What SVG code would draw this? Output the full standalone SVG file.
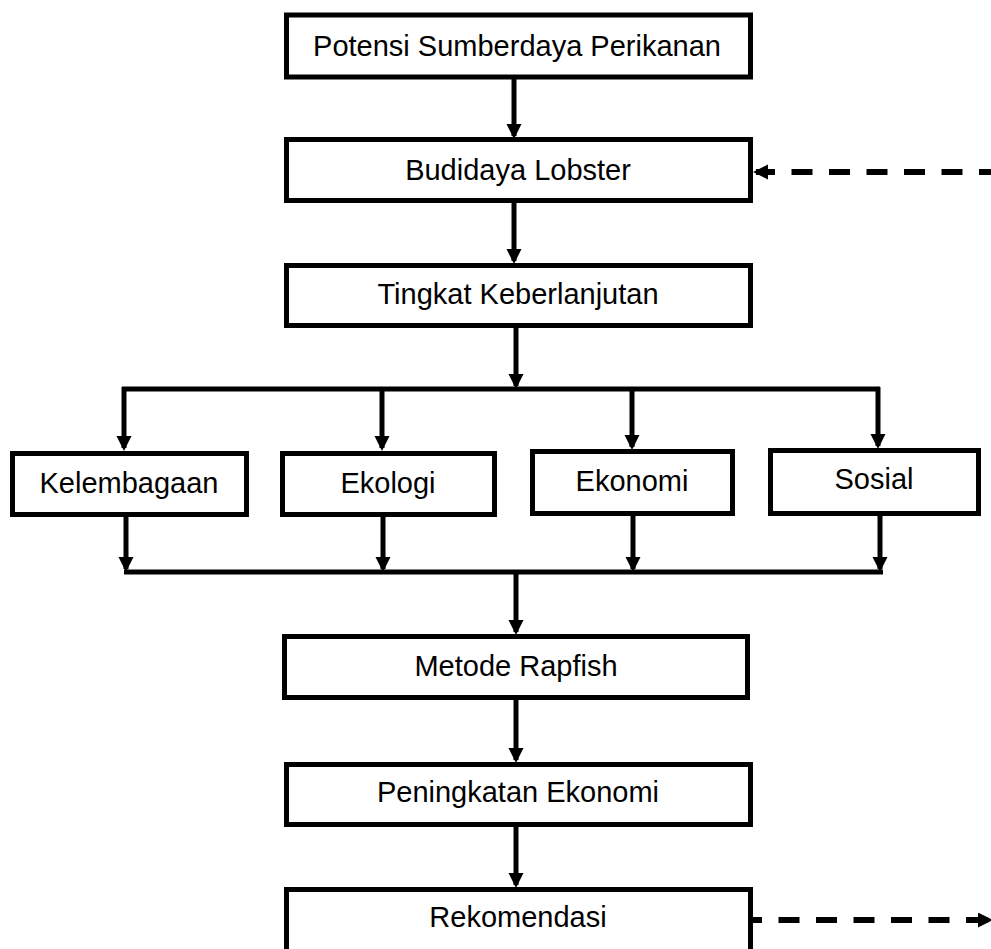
<svg xmlns="http://www.w3.org/2000/svg" width="991" height="949" viewBox="0 0 991 949">
<style>
.box rect{fill:#fff;stroke:#000;stroke-width:5;stroke-linejoin:miter}
.box text{font-family:"Liberation Sans",Arial,sans-serif;font-size:29px;fill:#000;text-anchor:middle}
.conn{fill:none;stroke:#000;stroke-width:5}
.dash{fill:none;stroke:#000;stroke-width:6;stroke-dasharray:21 16.5}
</style>
<defs>
<marker id="ah" markerUnits="userSpaceOnUse" markerWidth="16" markerHeight="16" refX="12" refY="7.5" orient="auto">
<path d="M0,0 L15,7.5 L0,15 Z" fill="#000"/>
</marker>
</defs>
<rect width="991" height="949" fill="#fff"/>
<g id="connectors">
<path class="conn" d="M514,79 V136" marker-end="url(#ah)"/>
<path class="conn" d="M514,203 V261" marker-end="url(#ah)"/>
<path class="conn" d="M516,328 V386" marker-end="url(#ah)"/>
<path class="conn" d="M122,389 H880"/>
<path class="conn" d="M124,387 V448" marker-end="url(#ah)"/>
<path class="conn" d="M382,387 V448" marker-end="url(#ah)"/>
<path class="conn" d="M632,387 V447" marker-end="url(#ah)"/>
<path class="conn" d="M878,387 V446" marker-end="url(#ah)"/>
<path class="conn" d="M126,514 V569" marker-end="url(#ah)"/>
<path class="conn" d="M383,516 V569" marker-end="url(#ah)"/>
<path class="conn" d="M633,515 V569" marker-end="url(#ah)"/>
<path class="conn" d="M880,515 V569" marker-end="url(#ah)"/>
<path class="conn" d="M124,572 H883"/>
<path class="conn" d="M516,570 V632" marker-end="url(#ah)"/>
<path class="conn" d="M516,700 V760" marker-end="url(#ah)"/>
<path class="conn" d="M516,827 V885" marker-end="url(#ah)"/>
<path class="dash" d="M991,172 H756" style="stroke-dashoffset:9" marker-end="url(#ah)"/>
<path class="dash" d="M753,920 H990" style="stroke-dashoffset:12" marker-end="url(#ah)"/>
</g>
<g id="n-potensi" class="box"><rect x="286.5" y="15" width="464" height="62"/><text x="517" y="56">Potensi Sumberdaya Perikanan</text></g>
<g id="n-budidaya" class="box"><rect x="286.5" y="139.5" width="464" height="61"/><text x="518" y="180">Budidaya Lobster</text></g>
<g id="n-tingkat" class="box"><rect x="286.5" y="265.5" width="464" height="60"/><text x="518" y="304">Tingkat Keberlanjutan</text></g>
<g id="n-kelembagaan" class="box"><rect x="12.5" y="453.5" width="234" height="61"/><text x="129" y="493">Kelembagaan</text></g>
<g id="n-ekologi" class="box"><rect x="282.5" y="453.5" width="212" height="61"/><text x="388" y="493">Ekologi</text></g>
<g id="n-ekonomi" class="box"><rect x="532.5" y="451.5" width="200" height="62"/><text x="632" y="491">Ekonomi</text></g>
<g id="n-sosial" class="box"><rect x="770.5" y="450.5" width="208" height="63"/><text x="874" y="489">Sosial</text></g>
<g id="n-metode" class="box"><rect x="284.5" y="636.5" width="463" height="61"/><text x="516" y="676">Metode Rapfish</text></g>
<g id="n-peningkatan" class="box"><rect x="286.5" y="764.5" width="464" height="60"/><text x="518" y="802">Peningkatan Ekonomi</text></g>
<g id="n-rekomendasi" class="box"><rect x="286.5" y="889.5" width="464" height="70"/><text x="518" y="927">Rekomendasi</text></g>
</svg>
